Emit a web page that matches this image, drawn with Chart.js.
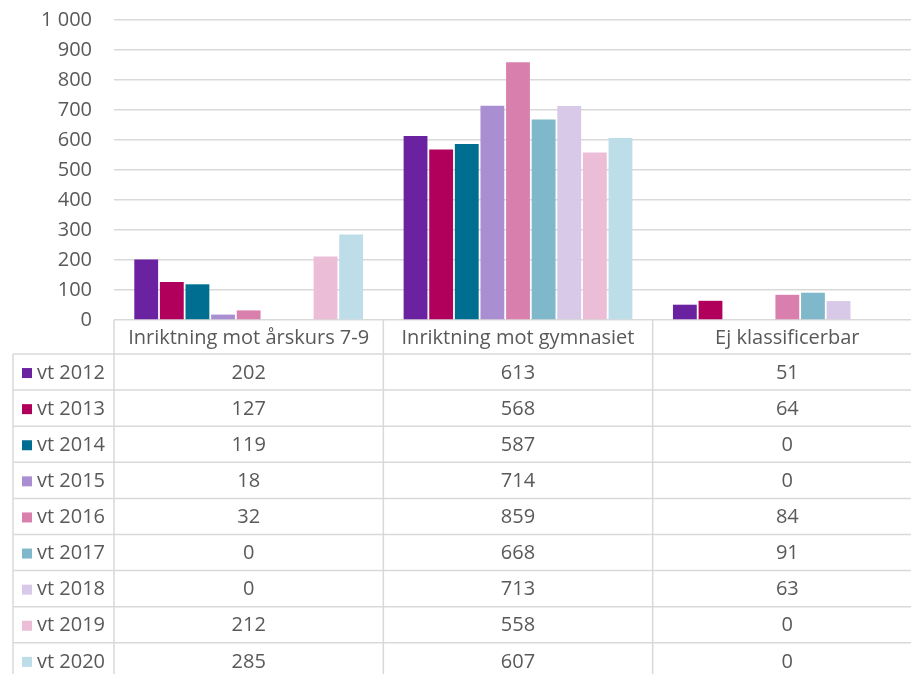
<!DOCTYPE html>
<html>
<head>
<meta charset="utf-8">
<script src="https://cdn.jsdelivr.net/npm/chart.js@4"></script>
<style>
  html, body { margin: 0; padding: 0; background: #fff; overflow: hidden; }
  #wrap { width: 922px; height: 680px; }
</style>
</head>
<body>
<div id="wrap"><canvas id="chart" width="922" height="680"></canvas></div>
<script>
// Data
const categories = ["Inriktning mot årskurs 7-9", "Inriktning mot gymnasiet", "Ej klassificerbar"];
const years = ["vt 2012", "vt 2013", "vt 2014", "vt 2015", "vt 2016", "vt 2017", "vt 2018", "vt 2019", "vt 2020"];
const vt2012 = [202, 613, 51];
const vt2013 = [127, 568, 64];
const vt2014 = [119, 587, 0];
const vt2015 = [18, 714, 0];
const vt2016 = [32, 859, 84];
const vt2017 = [0, 668, 91];
const vt2018 = [0, 713, 63];
const vt2019 = [212, 558, 0];
const vt2020 = [285, 607, 0];
const yTicks = [0, 100, 200, 300, 400, 500, 600, 700, 800, 900, 1000];

const seriesValues = [vt2012, vt2013, vt2014, vt2015, vt2016, vt2017, vt2018, vt2019, vt2020];
const colors = ["#6a22a0", "#b0005c", "#006e90", "#a98fd1", "#d97fae", "#7fb8cb", "#d7c9e7", "#ecbdd7", "#bddde9"];

const textColor = "#595959";
const lineColor = "#d9d9d9";
const fontFamily = "'Open Sans', Lato, sans-serif";

// Data table drawn under the plot, columns taken from the x scale
const dataTable = {
  id: "dataTable",
  afterDraw(chart) {
    const ctx = chart.ctx;
    const x = chart.scales.x;
    const area = chart.chartArea;
    const colW = x.getPixelForValue(1) - x.getPixelForValue(0);
    const headTop = area.bottom;
    const headBottom = headTop + 34;
    const rowH = 36.1;
    const tableLeft = 13;
    const bottom = chart.height;

    ctx.save();
    ctx.strokeStyle = lineColor;
    ctx.lineWidth = 1.5;

    // vertical lines
    ctx.beginPath();
    categories.forEach((c, i) => {
      const lx = x.getPixelForValue(i) - colW / 2;
      ctx.moveTo(lx, headTop);
      ctx.lineTo(lx, bottom);
    });
    const rx = x.getPixelForValue(categories.length - 1) + colW / 2;
    ctx.moveTo(rx, headTop);
    ctx.lineTo(rx, bottom);
    ctx.moveTo(tableLeft, headBottom);
    ctx.lineTo(tableLeft, bottom);
    ctx.stroke();

    // horizontal lines
    ctx.beginPath();
    for (let r = 0; r <= years.length; r++) {
      const ly = headBottom + r * rowH;
      ctx.moveTo(tableLeft, ly);
      ctx.lineTo(chart.width, ly);
    }
    ctx.stroke();

    ctx.fillStyle = textColor;
    ctx.textBaseline = "middle";
    ctx.font = "20px " + fontFamily;

    // header
    ctx.textAlign = "center";
    categories.forEach((c, i) => {
      ctx.fillText(c, x.getPixelForValue(i), (headTop + headBottom) / 2 + 1);
    });

    // rows
    years.forEach((yr, r) => {
      const cy = headBottom + r * rowH + rowH / 2 + 1;
      ctx.fillStyle = colors[r];
      ctx.fillRect(22, cy - 5, 10, 10);
      ctx.fillStyle = textColor;
      ctx.textAlign = "left";
      ctx.fillText(yr, 37, cy);
      ctx.textAlign = "center";
      seriesValues[r].forEach((v, i) => {
        ctx.fillText(String(v), x.getPixelForValue(i), cy);
      });
    });
    ctx.restore();
  }
};

const ctx = document.getElementById("chart").getContext("2d");

new Chart(ctx, {
  type: "bar",
  data: {
    labels: categories,
    datasets: years.map((yr, i) => ({
      label: yr,
      data: seriesValues[i],
      backgroundColor: colors[i],
      categoryPercentage: 0.856,
      barPercentage: 0.93
    }))
  },
  options: {
    responsive: false,
    animation: false,
    layout: { padding: { left: 0, right: 0, top: 20, bottom: 360 } },
    plugins: {
      legend: { display: false },
      tooltip: { enabled: false }
    },
    scales: {
      x: { display: false },
      y: {
        min: 0,
        max: 1000,
        afterBuildTicks: (scale) => {
          scale.ticks = yTicks.map((v) => ({ value: v }));
        },
        afterFit: (scale) => {
          scale.width = 114;
          scale.paddingTop = 0;
          scale.paddingBottom = 0;
        },
        border: { display: false },
        grid: { color: lineColor, lineWidth: 1.5, drawTicks: false },
        ticks: {
          color: textColor,
          padding: 22,
          font: { family: fontFamily, size: 20 },
          callback: (v) => String(v).replace(/\B(?=(\d{3})+(?!\d))/g, " ")
        }
      }
    }
  },
  plugins: [dataTable]
});
</script>
</body>
</html>
